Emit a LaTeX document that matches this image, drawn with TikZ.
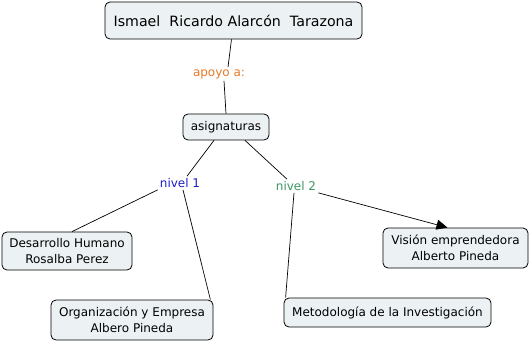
\documentclass[tikz,border=0pt]{standalone}
\usepackage{fontspec}
\setmainfont{DejaVu Sans}
\usetikzlibrary{arrows.meta}
\definecolor{boxfill}{RGB}{236,242,244}
\definecolor{lblorange}{RGB}{232,120,40}
\definecolor{lblblue}{RGB}{30,30,200}
\definecolor{lblgreen}{RGB}{60,150,100}
\tikzset{
  concept/.style={draw=black, fill=boxfill, rounded corners=5pt, line width=0.8pt,
    inner sep=0pt, align=center, font=\fontsize{12}{15.5}\selectfont},
  linklbl/.style={inner sep=2pt, font=\fontsize{12}{13}\selectfont},
  conn/.style={draw=black, line width=0.7pt},
}
\begin{document}
\begin{tikzpicture}[x=1pt,y=-1pt]
\useasboundingbox (0,0) rectangle (530,342);
\node[concept, minimum width=257pt, minimum height=37pt, font=\fontsize{14.2}{16}\selectfont] (top) at (233.5,20.5) {Ismael\ \ Ricardo Alarcón\ \ Tarazona};
\node[linklbl, text=lblorange] (apoyo) at (219,74) {apoyo a:};
\node[concept, minimum width=86pt, minimum height=26pt] (asig) at (226,127) {asignaturas};
\node[linklbl, text=lblblue] (n1) at (180,183) {nivel 1};
\node[linklbl, text=lblgreen] (n2) at (296,186) {nivel 2};
\node[concept, minimum width=130pt, minimum height=38pt] (des) at (67,251) {Desarrollo Humano\\Rosalba Perez};
\node[concept, minimum width=162pt, minimum height=40pt] (org) at (132,320) {Organización y Empresa\\Albero Pineda};
\node[concept, minimum width=145pt, minimum height=40pt] (vis) at (455.5,248) {Visión emprendedora\\Alberto Pineda};
\node[concept, minimum width=207pt, minimum height=29pt] (met) at (387.5,312.5) {Metodología de la Investigación};

\draw[conn] ([xshift=-2pt]top.south) -- ([xshift=9pt]apoyo.north);
\draw[conn] ([xshift=5pt]apoyo.south) -- (asig.north);
\draw[conn] ([xshift=-12pt]asig.south) -- ([xshift=7pt]n1.north);
\draw[conn] ([xshift=19pt]asig.south) -- ([xshift=-9pt]n2.north);
\draw[conn] (n1.south west) -- ([xshift=5pt]des.north);
\draw[conn] ([xshift=3pt]n1.south) -- ([xshift=-3pt]org.north east);
\draw[conn] ([xshift=-2pt]n2.south) -- ([xshift=2pt]met.north west);
\draw[conn, -{Triangle[length=11pt,width=10pt]}] (n2.south east) -- ([xshift=-8pt]vis.north);
\end{tikzpicture}
\end{document}
